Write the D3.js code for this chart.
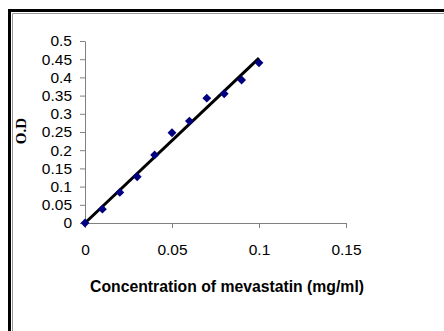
<!DOCTYPE html>
<html>
<head>
<meta charset="utf-8">
<script src="https://cdn.jsdelivr.net/npm/d3@7"></script>
<style>
  body { margin: 0; background: #fff; }
  svg { display: block; }
  .tick text { font-family: "Liberation Sans", Arial, sans-serif; font-size: 15.5px; fill: #000; }
</style>
</head>
<body>
<svg id="chart" width="444" height="331"></svg>
<script>
'use strict';

// concentration (mg/ml) and optical density
var concentration = [0, 0.01, 0.02, 0.03, 0.04, 0.05, 0.06, 0.07, 0.08, 0.09, 0.1];
var opticalDensity = [0, 0.038, 0.084, 0.127, 0.187, 0.248, 0.28, 0.343, 0.355, 0.393, 0.44];
var xTicks = [0, 0.05, 0.1, 0.15];
var yTicks = [0, 0.05, 0.1, 0.15, 0.2, 0.25, 0.3, 0.35, 0.4, 0.45, 0.5];

var svg = d3.select("#chart");

// frame: only top and left edges are visible, the rest is cropped
svg.append("path").attr("d", "M9.5,331V10.5H444")
    .attr("fill", "none").attr("stroke", "#000").attr("stroke-width", 3);
svg.append("path").attr("d", "M12.5,331V13.5H444")
    .attr("fill", "none").attr("stroke", "#999").attr("stroke-width", 1);

var x = d3.scaleLinear().domain([0, 0.15]).range([85, 346]);
var y = d3.scaleLinear().domain([0, 0.5]).range([223, 41]);

var fmt = function(d) { return String(d); };

var xAxis = svg.append("g").attr("transform", "translate(0,223)")
    .call(d3.axisBottom(x).tickValues(xTicks).tickFormat(fmt).tickSizeInner(5).tickSizeOuter(0).tickPadding(16));
var yAxis = svg.append("g").attr("transform", "translate(85,0)")
    .call(d3.axisLeft(y).tickValues(yTicks).tickFormat(fmt).tickSizeInner(5).tickSizeOuter(0).tickPadding(8));

[xAxis, yAxis].forEach(function(ax) {
    ax.select(".domain").attr("stroke", "#808080");
    ax.selectAll(".tick line").attr("stroke", "#808080");
});

// linear trendline through the origin (least squares)
var sxy = d3.sum(concentration, function(c, i) { return c * opticalDensity[i]; });
var sxx = d3.sum(concentration, function(c) { return c * c; });
var slope = sxy / sxx;
var xMax = d3.max(concentration);

svg.append("line")
    .attr("x1", x(0)).attr("y1", y(0))
    .attr("x2", x(xMax)).attr("y2", y(slope * xMax))
    .attr("stroke", "#000").attr("stroke-width", 3);

var diamond = d3.symbol().type(d3.symbolDiamond2).size(50);
svg.append("g").selectAll("path")
    .data(concentration)
    .enter().append("path")
    .attr("d", diamond)
    .attr("transform", function(c, i) { return "translate(" + x(c) + "," + y(opticalDensity[i]) + ")"; })
    .attr("fill", "#000080");

svg.append("text")
    .attr("x", 227).attr("y", 292)
    .attr("text-anchor", "middle")
    .attr("font-family", "'Liberation Sans', Arial, sans-serif")
    .attr("font-weight", "bold").attr("font-size", 16)
    .attr("textLength", 274).attr("lengthAdjust", "spacingAndGlyphs")
    .text("Concentration of mevastatin (mg/ml)");

svg.append("text")
    .attr("transform", "translate(26,131) rotate(-90)")
    .attr("text-anchor", "middle")
    .attr("font-family", "'Liberation Serif', 'Times New Roman', serif")
    .attr("font-weight", "bold").attr("font-size", 15)
    .text("O.D");
</script>
</body>
</html>
